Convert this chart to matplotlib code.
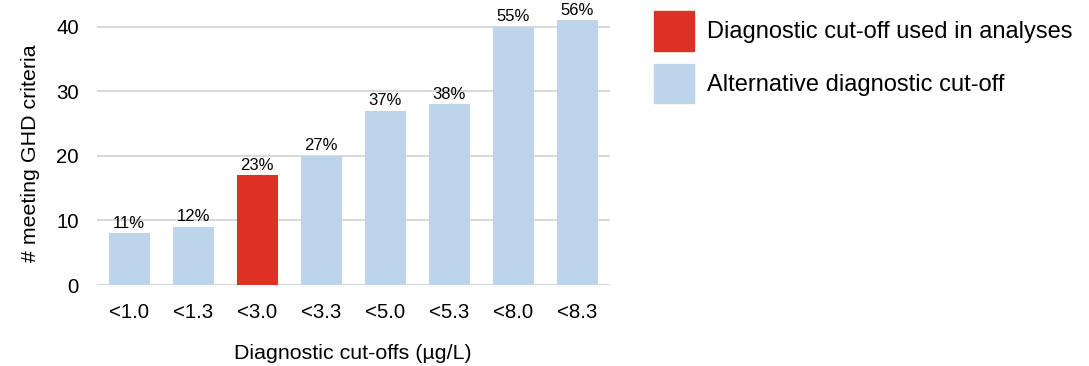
import numpy as np
import matplotlib.pyplot as plt
from matplotlib.patches import Patch

plt.rcParams['font.family'] = ['Liberation Sans', 'DejaVu Sans']

# data
cutoffs = ['<1.0', '<1.3', '<3.0', '<3.3', '<5.0', '<5.3', '<8.0', '<8.3']
counts = [8, 9, 17, 20, 27, 28, 40, 41]
pct_labels = ['11%', '12%', '23%', '27%', '37%', '38%', '55%', '56%']
used = [False, False, True, False, False, False, False, False]

red = '#de3024'
blue = '#bdd5ea'
colors = [red if u else blue for u in used]

fig = plt.figure(figsize=(10.89, 3.66), dpi=100)
ax = fig.add_axes([0.0891, 0.2213, 0.4706, 0.7227])

x = np.arange(len(cutoffs))
bars = ax.bar(x, counts, width=0.64, color=colors, zorder=2)

# percentage labels above bars
for xi, c, lab in zip(x, counts, pct_labels):
    ax.annotate(lab, (xi, c), xytext=(0, 2), textcoords='offset points',
                ha='center', va='bottom', fontsize=12, clip_on=False)

ax.set_xlim(-0.5, 7.5)
ax.set_ylim(0, 41)
ax.set_yticks([0, 10, 20, 30, 40])
ax.set_xticks(x)
ax.set_xticklabels(cutoffs)
ax.tick_params(length=0, labelsize=14.7, pad=13)
ax.yaxis.grid(True, color='#d9d9d9', linewidth=1.5, zorder=0)
ax.set_axisbelow(True)
for s in ax.spines.values():
    s.set_visible(False)

ax.set_xlabel('Diagnostic cut-offs (µg/L)', fontsize=15.4, labelpad=15.5)
ax.set_ylabel('# meeting GHD criteria', fontsize=15.4, labelpad=12)

handles = [Patch(color=red, label='Diagnostic cut-off used in analyses'),
           Patch(color=blue, label='Alternative diagnostic cut-off')]
fig.legend(handles=handles, loc='upper left', bbox_to_anchor=(0.6006, 0.970),
           frameon=False, fontsize=17, handlelength=1.7, handleheight=2.2,
           handletextpad=0.55, labelspacing=0.55, borderpad=0, borderaxespad=0)

fig.savefig('out.png', dpi=100)
